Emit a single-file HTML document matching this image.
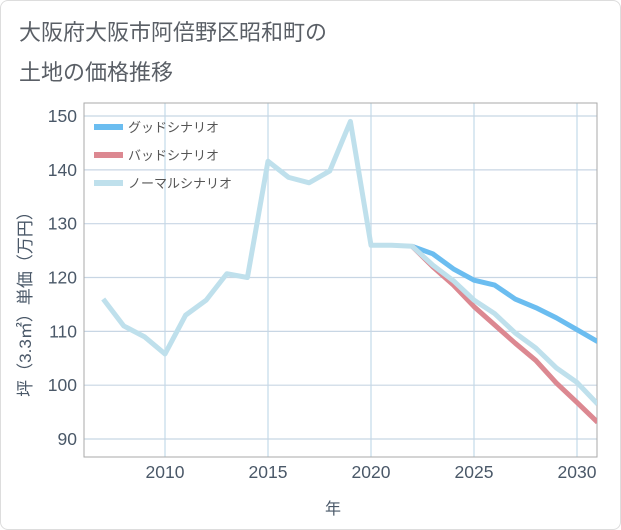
<!DOCTYPE html>
<html><head><meta charset="utf-8"><style>
body{margin:0;background:#fff;}
#card{position:absolute;left:0;top:0;width:619px;height:528px;border:1px solid #ddd;border-radius:8px;background:#fff;}
.t{position:absolute;left:18px;font:22px "Liberation Sans","Noto Sans CJK JP",sans-serif;color:#5a5f66;}
svg text{font-family:"Liberation Sans","Noto Sans CJK JP",sans-serif;}
</style></head><body>
<div id="card">
<div class="t" style="top:14px">大阪府大阪市阿倍野区昭和町の</div>
<div class="t" style="top:54px">土地の価格推移</div>
</div>
<svg id="chart" width="621" height="530" style="position:absolute;left:0;top:0"></svg>
<script>
const years=[2007,2008,2009,2010,2011,2012,2013,2014,2015,2016,2017,2018,2019,2020,2021,2022,2023,2024,2025,2026,2027,2028,2029,2030,2031];
const normal=[116,111,109,105.8,113,115.8,120.7,120,141.6,138.6,137.6,139.8,149,126,126,125.8,122.3,119.4,115.8,113.3,109.7,106.9,103.2,100.5,96.5];
const goodYears=[2022,2023,2024,2025,2026,2027,2028,2029,2030,2031];
const good=[125.8,124.4,121.6,119.5,118.6,116,114.4,112.5,110.3,108.1];
const bad=[125.8,122,118.6,114.6,111.2,107.8,104.6,100.4,96.8,93.1];
const xTicks=[2010,2015,2020,2025,2030];
const yTicks=[90,100,110,120,130,140,150];
const L=84,R=597,T=103,B=457;
const x=v=>165+(v-2010)*20.6;
const y=v=>439-(v-90)*5.383;
const svg=document.getElementById('chart');
const NS='http://www.w3.org/2000/svg';
function mk(tag,a,p){const e=document.createElementNS(NS,tag);for(const k in a)e.setAttribute(k,a[k]);(p||svg).appendChild(e);return e;}
const bg=mk('rect',{x:L,y:T,width:R-L,height:B-T,fill:'#fff',stroke:'#aaa'});


xTicks.forEach(v=>{
 const g=mk('line',{x1:x(v),x2:x(v),y1:T,y2:B,stroke:'#cfe2ee','stroke-width':1.5});
 
 
 const t=mk('text',{x:x(v),y:478,'text-anchor':'middle','font-size':17.5,fill:'#4a5868'});t.textContent=v;
 
 
});
yTicks.forEach(v=>{
 const g=mk('line',{x1:L,x2:R,y1:y(v),y2:y(v),stroke:'#c8d6e4','stroke-width':1.2});
 
 
 const t=mk('text',{x:77,y:y(v)+6,'text-anchor':'end','font-size':17.5,fill:'#4a5868'});t.textContent=v;
 
 
});
mk('rect',{x:L,y:T,width:R-L,height:B-T,fill:'none',stroke:'#aaa'});
const clip=mk('clipPath',{id:'c'});mk('rect',{x:L,y:T,width:R-L,height:B-T},clip);
function line(xs,vals,color,name){
 const p=mk('polyline',{points:xs.map((v,i)=>x(v)+','+y(vals[i])).join(' '),fill:'none',stroke:color,'stroke-width':5,'stroke-linejoin':'round','clip-path':'url(#c)'});
 
 
}
line(goodYears,good,'#6bbdf0','good-scenario-line');
line(goodYears,bad,'#dc8891','bad-scenario-line');
line(years,normal,'#bfe0ec','normal-scenario-line');
const leg=[['グッドシナリオ','#6bbdf0'],['バッドシナリオ','#dc8891'],['ノーマルシナリオ','#bfe0ec']];
leg.forEach((d,i)=>{
 const yy=127+i*28;
 const g=mk('g',{});
 
 
 mk('line',{x1:94,x2:123,y1:yy,y2:yy,stroke:d[1],'stroke-width':6},g);
 const t=mk('text',{x:128,y:yy+5,'font-size':13,fill:'#555'},g);t.textContent=d[0];
});
const yl=mk('text',{transform:'translate(31,300) rotate(-90)','text-anchor':'middle','font-size':17,fill:'#4a5868'});yl.textContent='坪（3.3㎡）単価（万円）';


const xl=mk('text',{x:333,y:514,'text-anchor':'middle','font-size':16,fill:'#4a5868'});xl.textContent='年';


</script>
</body></html>
